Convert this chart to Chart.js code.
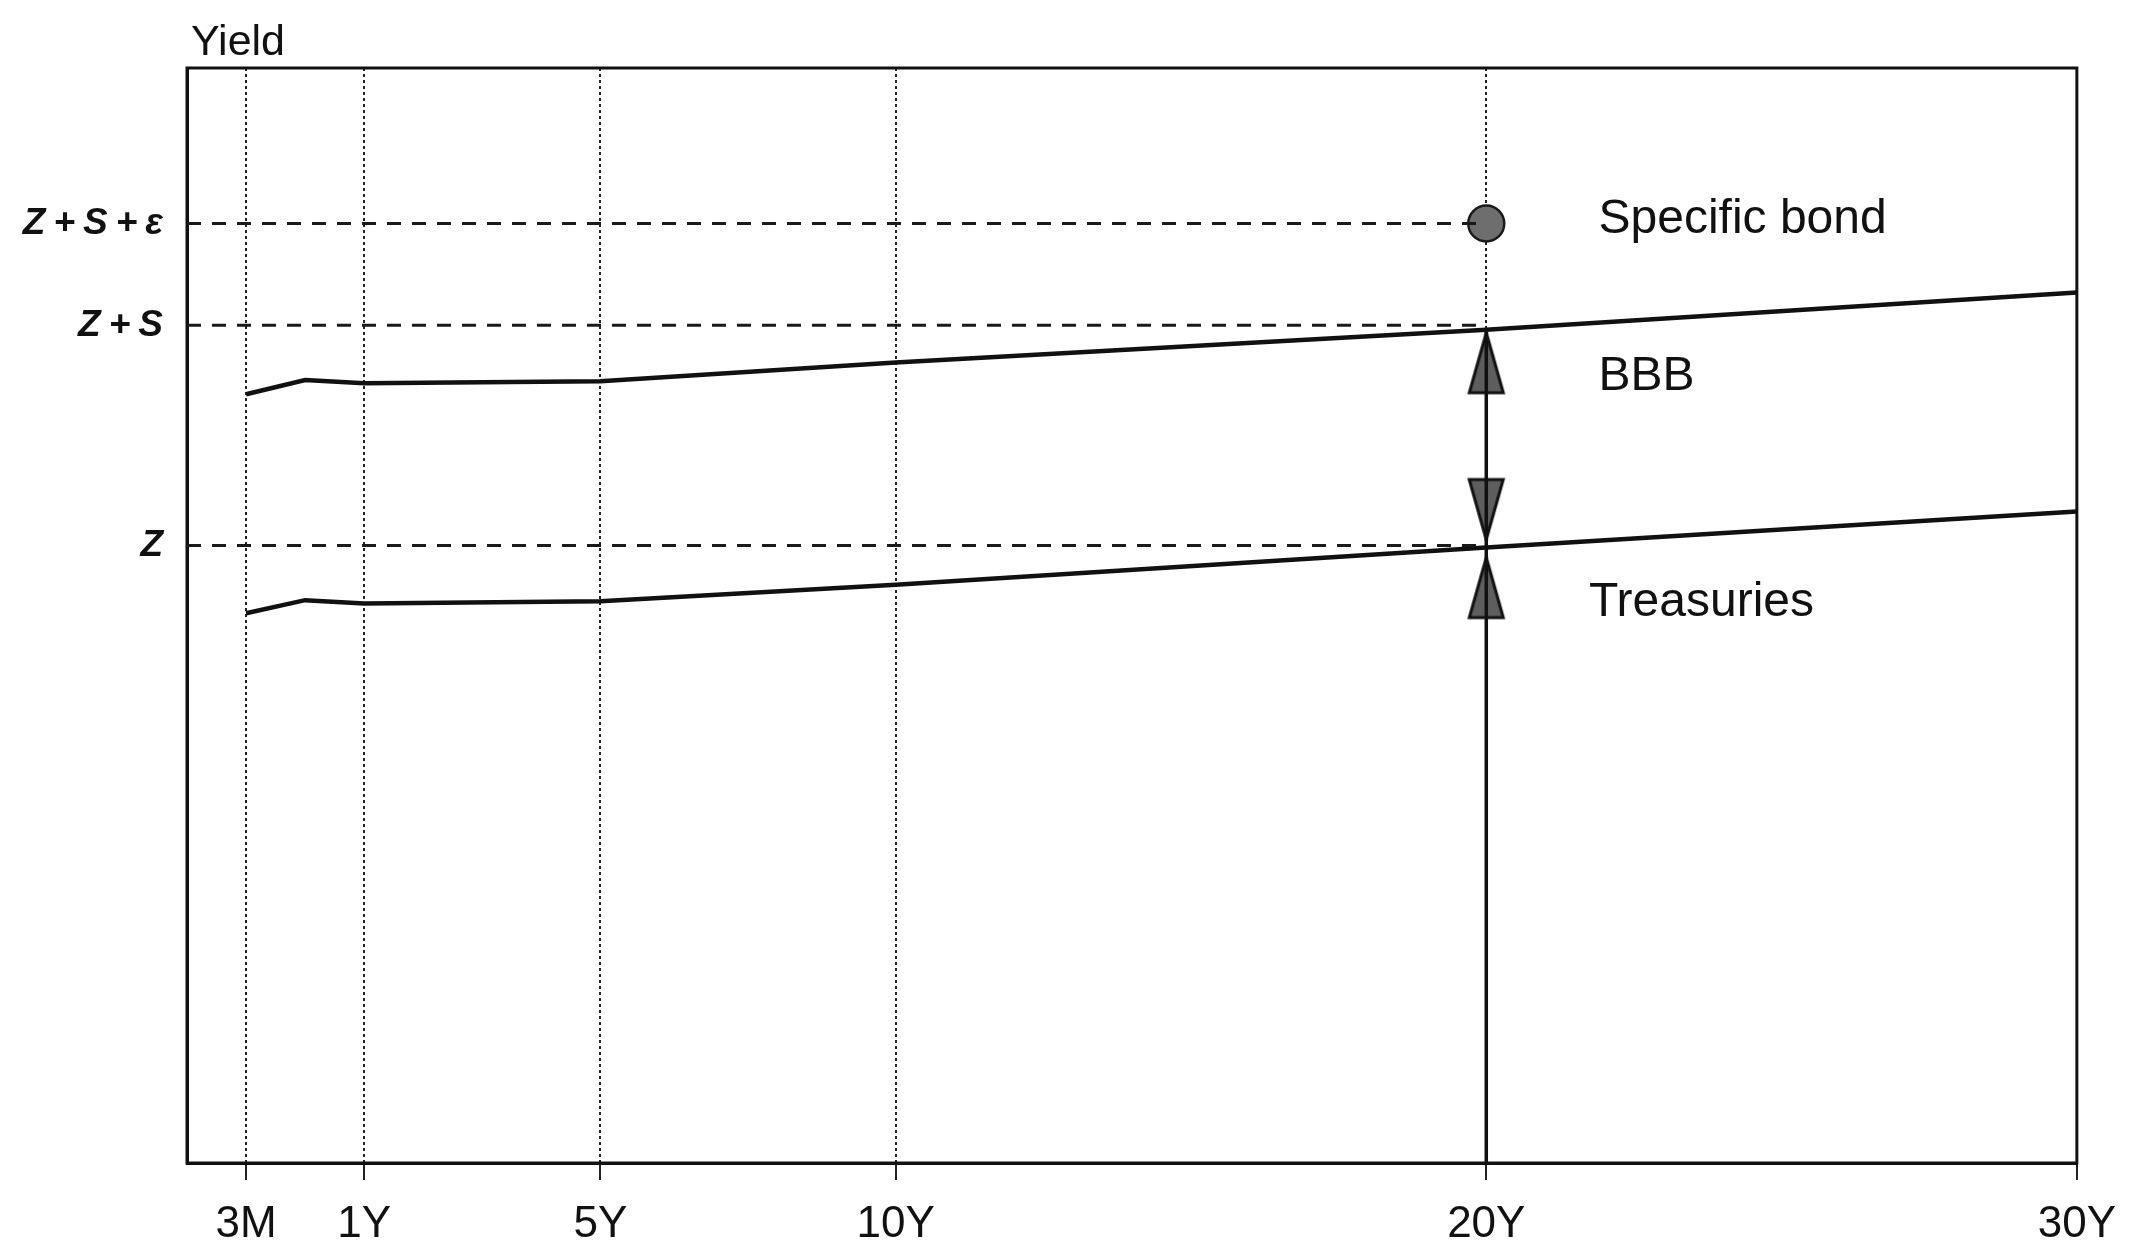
<!DOCTYPE html>
<html lang="en">
<head>
    <meta charset="UTF-8">
    <title>Yield curves: Treasuries, BBB and a specific bond</title>
    <script src="https://cdn.jsdelivr.net/npm/chart.js"></script>
    <style>
        html, body {
            margin: 0;
            padding: 0;
            background: #fff;
        }
        #chart-box {
            width: 2134px;
            height: 1251px;
        }
    </style>
</head>
<body>
<div id="chart-box"><canvas id="yield-chart"></canvas></div>

<script>
    // tenors shown on the x axis and where each sits on the figure's axis (years;
    // the short end is stretched, so 3M is drawn two years left of 1Y)
    const tenorLabels = ['3M', '1Y', '5Y', '10Y', '20Y', '30Y'];
    const tenorPos = [-1, 1, 5, 10, 20, 30];

    // curve nodes: the tenors plus the small bend right after 3M
    const curveX = [-1, 0, 1, 5, 10, 20, 30];
    const bbbYield = [7.02, 7.15, 7.12, 7.14, 7.31, 7.61, 7.95];
    const treasuryYield = [5.02, 5.14, 5.11, 5.13, 5.28, 5.62, 5.95];

    // marked yield levels on the y axis
    const levelLabels = ['Z', 'Z+S', 'Z+S+ε'];
    const levelValues = [5.64, 7.65, 8.58];

    // the specific bond
    const bondTenor = 20;
    const bondYield = 8.58;

    const X_MIN = -2, X_MAX = 30;
    const FONT = "'Liberation Sans', Arial, sans-serif";
    const INK = '#111';

    const toPoints = (xs, ys) => xs.map((x, i) => ({x: x, y: ys[i]}));
    const iBond = curveX.indexOf(bondTenor);

    // arrow head as an image, tip sits `gap` px below the image centre
    function arrowHead(gap) {
        const w = 40, h = 2 * (gap + 66);
        const c = document.createElement('canvas');
        c.width = w;
        c.height = h;
        const g = c.getContext('2d');
        const tip = h / 2 + gap, base = tip + 60;
        g.beginPath();
        g.moveTo(w / 2, tip);
        g.lineTo(w - 3, base);
        g.lineTo(3, base);
        g.closePath();
        g.fillStyle = '#5e5e5e';
        g.fill();
        g.lineWidth = 3;
        g.strokeStyle = INK;
        g.stroke();
        return c;
    }

    const levelSets = levelValues.map(v => ({
        data: [{x: X_MIN, y: v}, {x: bondTenor, y: v}],
        borderColor: '#1a1a1a',
        borderWidth: 3,
        borderDash: [14, 11],
        pointRadius: 0
    }));

    const decor = {
        id: 'decor',
        beforeDatasetsDraw(chart) {
            const {ctx, chartArea: a} = chart;
            ctx.save();
            ctx.lineWidth = 3;
            ctx.strokeStyle = INK;
            ctx.strokeRect(a.left, a.top, a.right - a.left, a.bottom - a.top);
            ctx.restore();
        },
        afterDatasetsDraw(chart) {
            // y labels are drawn after this (ticks.z = 1) and are letter-spaced
            chart.ctx.letterSpacing = '8px';
        },
        afterDraw(chart, args, opts) {
            const {ctx, chartArea: a, scales} = chart;
            ctx.letterSpacing = '0px';
            ctx.save();
            ctx.fillStyle = INK;
            ctx.textBaseline = 'alphabetic';
            ctx.textAlign = 'left';
            ctx.font = '43px ' + FONT;
            ctx.fillText('Yield', a.left + 4, a.top - 13);
            ctx.font = '48px ' + FONT;
            opts.notes.forEach(n => {
                ctx.fillText(n.text, scales.x.getPixelForValue(n.x), scales.y.getPixelForValue(n.y));
            });
            ctx.restore();
        }
    };

    new Chart(document.getElementById('yield-chart'), {
        type: 'line',
        data: {
            datasets: [
                ...levelSets,
                {
                    data: toPoints(curveX, bbbYield),
                    borderColor: INK,
                    borderWidth: 4.5,
                    pointRadius: 0,
                    tension: 0
                },
                {
                    data: toPoints(curveX, treasuryYield),
                    borderColor: INK,
                    borderWidth: 4.5,
                    pointRadius: 0,
                    tension: 0
                },
                {
                    // spread bar at 20Y, from the axis up to the BBB curve
                    data: [{x: bondTenor, y: 0}, {x: bondTenor, y: bbbYield[iBond]}],
                    borderColor: INK,
                    borderWidth: 3.5,
                    pointRadius: 0
                },
                {
                    data: [
                        {x: bondTenor, y: bbbYield[iBond]},
                        {x: bondTenor, y: treasuryYield[iBond]},
                        {x: bondTenor, y: treasuryYield[iBond]}
                    ],
                    showLine: false,
                    pointRadius: 5,
                    pointStyle: [arrowHead(3), arrowHead(8), arrowHead(10)],
                    pointRotation: [0, 180, 0]
                },
                {
                    data: [{x: bondTenor, y: bondYield}],
                    showLine: false,
                    pointRadius: 18,
                    pointBackgroundColor: '#6e6e6e',
                    pointBorderColor: '#1a1a1a',
                    pointBorderWidth: 2.5
                }
            ]
        },
        options: {
            responsive: true,
            maintainAspectRatio: false,
            animation: false,
            events: [],
            layout: {
                padding: {top: 68, right: 46, left: 0, bottom: 0}
            },
            scales: {
                x: {
                    type: 'linear',
                    min: X_MIN,
                    max: X_MAX,
                    afterBuildTicks: s => { s.ticks = tenorPos.map(v => ({value: v})); },
                    afterFit: s => { s.height = 88; },
                    grid: {
                        color: '#222',
                        lineWidth: 2,
                        tickLength: 17,
                        tickColor: '#222'
                    },
                    border: {color: INK, width: 3, dash: [3, 3]},
                    ticks: {
                        autoSkip: false,
                        maxRotation: 0,
                        padding: 18,
                        color: INK,
                        font: {family: FONT, size: 44},
                        callback: (v, i) => tenorLabels[i]
                    }
                },
                y: {
                    type: 'linear',
                    min: 0,
                    max: 10,
                    afterBuildTicks: s => { s.ticks = levelValues.map(v => ({value: v})); },
                    afterFit: s => { s.width = 187; },
                    grid: {display: false, drawTicks: false},
                    border: {color: INK, width: 3},
                    ticks: {
                        z: 1,
                        padding: 16,
                        color: INK,
                        font: {family: FONT, size: 37, style: 'italic', weight: 'bold'},
                        callback: (v, i) => levelLabels[i]
                    }
                }
            },
            plugins: {
                legend: {display: false},
                tooltip: {enabled: false},
                decor: {
                    notes: [
                        {text: 'Specific bond', x: 21.9, y: 8.49},
                        {text: 'BBB', x: 21.9, y: 7.06},
                        {text: 'Treasuries', x: 21.74, y: 5.0}
                    ]
                }
            }
        },
        plugins: [decor]
    });
</script>
</body>
</html>
